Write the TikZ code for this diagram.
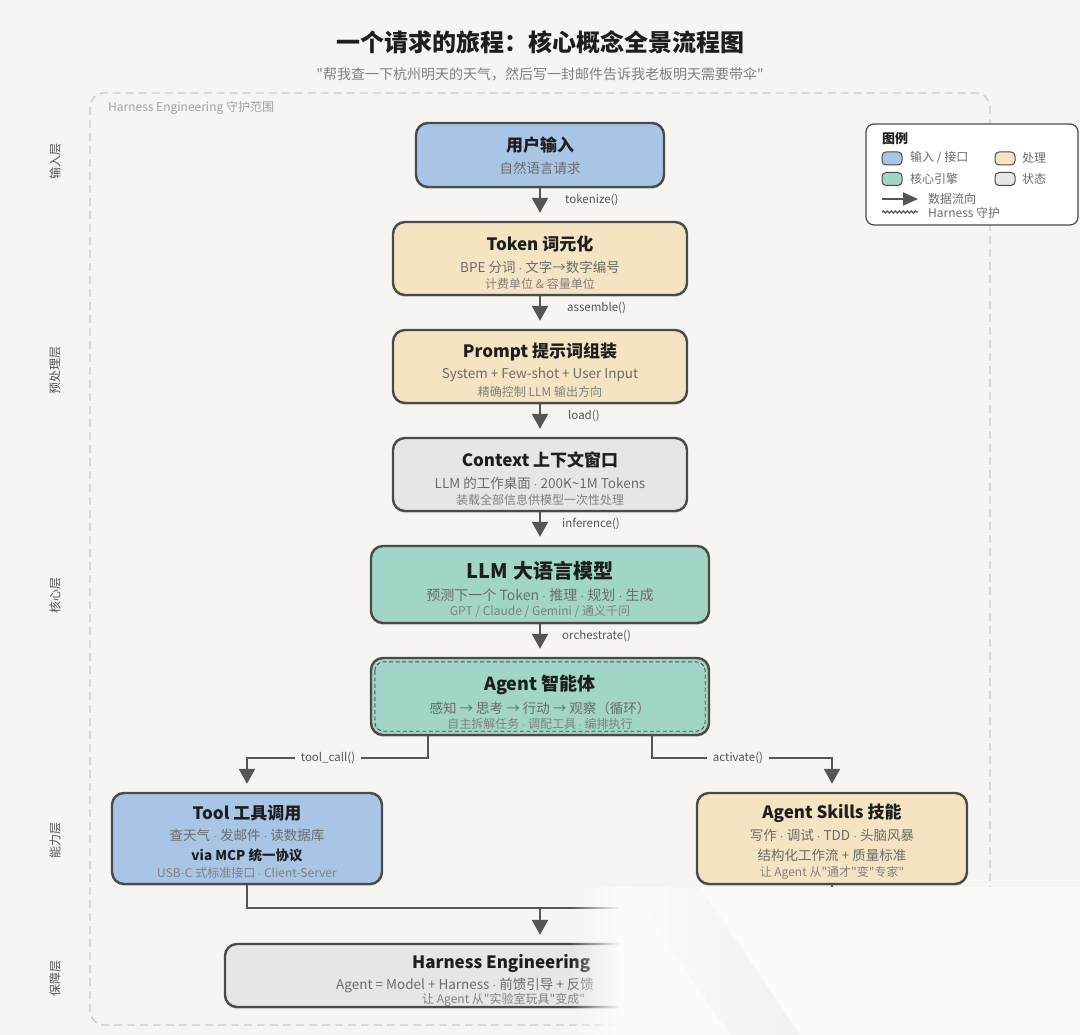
\documentclass[tikz,border=0pt]{standalone}
\usepackage{fontspec}
\setmainfont{Noto Sans CJK SC}[Ligatures=TeXOff]
\newfontfamily\latinfont{TeX Gyre Heros}[Ligatures=TeXOff]
\usetikzlibrary{arrows.meta,shadows,fadings,decorations.pathmorphing}

\definecolor{bgpaper}{HTML}{F7F5F1}
\definecolor{boxline}{HTML}{4A4A4A}
\definecolor{inblue}{HTML}{A9C5E6}
\definecolor{procbeige}{HTML}{F4E4C2}
\definecolor{coreteal}{HTML}{A0D5C7}
\definecolor{stategray}{HTML}{E7E6E3}
\definecolor{ink}{HTML}{1E1E1E}
\definecolor{subgray}{HTML}{6B6B6B}
\definecolor{notegray}{HTML}{808080}
\definecolor{arrowgray}{HTML}{555555}
\definecolor{fencegray}{HTML}{CACACA}

\newcommand{\setfs}[1]{\fontsize{#1}{#1}\selectfont}
\newcommand{\md}{{\latinfont\mdseries ·}}

\begin{document}
\begin{tikzpicture}[x=1pt,y=-1pt,
    box/.style={draw=boxline, line width=2.4pt, rounded corners=12pt,
      drop shadow={shadow xshift=0pt, shadow yshift=-2pt, opacity=0.12, fill=black}},
    ttl/.style={font=\bfseries\setfs{17}, text=ink, inner sep=0pt},
    sub/.style={font=\setfs{13.5}, text=subgray, inner sep=0pt},
    note/.style={font=\setfs{12}, text=notegray, inner sep=0pt},
    flow/.style={draw=arrowgray, line width=2.4pt, -{Triangle[width=16pt,length=15pt]}, shorten >=8pt},
    link/.style={draw=arrowgray, line width=2.2pt},
    lbl/.style={font=\setfs{11.5}, text=arrowgray, inner sep=2pt, anchor=west},
    layer/.style={font=\setfs{12}, text=arrowgray, rotate=90, inner sep=0pt},
    swatch/.style={draw=boxline, line width=1pt, rounded corners=4pt, minimum width=20pt, minimum height=13pt, inner sep=0pt},
    legtext/.style={font=\setfs{12}, text=subgray, anchor=west, inner sep=0pt}]

    % Draw background
    \useasboundingbox (0,0) rectangle (1080,1035);
    \fill[bgpaper] (0,0) rectangle (1080,1035);

    % Title and request
    \node[font=\bfseries\setfs{24}, text=ink, inner sep=0pt] (title) at (540,42) {一个请求的旅程：核心概念全景流程图};
    \node[font=\setfs{14}, text=notegray, inner sep=0pt] (request) at (540,74) {"帮我查一下杭州明天的天气，然后写一封邮件告诉我老板明天需要带伞"};

    % Harness scope
    \draw[fencegray, line width=1.3pt, dash pattern=on 8pt off 5pt, rounded corners=14pt] (90,93) rectangle (990,1025);
    \node[font=\setfs{12}, text=fencegray!80!black, anchor=west, inner sep=0pt] (scope) at (108,108) {Harness Engineering 守护范围};

    % Layer labels
    \node[layer] (l-input) at (55,162) {输入层};
    \node[layer] (l-pre) at (55,370) {预处理层};
    \node[layer] (l-core) at (55,595) {核心层};
    \node[layer] (l-cap) at (55,840) {能力层};
    \node[layer] (l-guard) at (55,978) {保障层};

    % Draw main boxes
    \node[box, fill=inblue, minimum width=248pt, minimum height=64pt] (input) at (540,155) {};
    \node[box, fill=procbeige, minimum width=294pt, minimum height=73pt] (token) at (540,258.5) {};
    \node[box, fill=procbeige, minimum width=294pt, minimum height=73pt] (prompt) at (540,366.5) {};
    \node[box, fill=stategray, minimum width=294pt, minimum height=73pt] (context) at (540,474.5) {};
    \node[box, fill=coreteal, minimum width=338pt, minimum height=77pt] (llm) at (540,584.5) {};
    \node[box, fill=coreteal, minimum width=338pt, minimum height=77pt] (agent) at (540,696.5) {};
    \draw[boxline, line width=0.9pt, dash pattern=on 4pt off 2.5pt, rounded corners=9pt]
        ([xshift=5pt,yshift=-5pt]agent.north west) rectangle ([xshift=-5pt,yshift=5pt]agent.south east);
    \node[box, fill=inblue, minimum width=270pt, minimum height=91pt] (tool) at (247,838.5) {};
    \node[box, fill=procbeige, minimum width=270pt, minimum height=91pt] (skills) at (832,838.5) {};
    \node[box, fill=stategray, minimum width=630pt, minimum height=63pt] (harness) at (540,975.5) {};

    % Box texts
    \node[ttl] (input-t) at (540,145) {用户输入};
    \node[sub] (input-s) at (540,168) {自然语言请求};

    \node[ttl] (token-t) at (540,244) {Token 词元化};
    \node[sub] (token-s) at (540,267) {BPE 分词 \md{} 文字→数字编号};
    \node[note] (token-n) at (540,284) {计费单位 \& 容量单位};

    \node[ttl] (prompt-t) at (540,352) {Prompt 提示词组装};
    \node[sub] (prompt-s) at (540,375) {System + Few-shot + User Input};
    \node[note] (prompt-n) at (540,392) {精确控制 LLM 输出方向};

    \node[ttl] (context-t) at (540,460) {Context 上下文窗口};
    \node[sub] (context-s) at (540,483) {LLM 的工作桌面 \md{} 200K\textasciitilde 1M Tokens};
    \node[note] (context-n) at (540,500) {装载全部信息供模型一次性处理};

    \node[ttl, font=\bfseries\setfs{20}] (llm-t) at (540,571) {LLM 大语言模型};
    \node[sub, font=\setfs{14}] (llm-s) at (540,595) {预测下一个 Token \md{} 推理 \md{} 规划 \md{} 生成};
    \node[note] (llm-n) at (540,612) {GPT / Claude / Gemini / 通义千问};

    \node[ttl, font=\bfseries\setfs{18}] (agent-t) at (540,685) {Agent 智能体};
    \node[sub] (agent-s) at (540,708) {感知 → 思考 → 行动 → 观察（循环）};
    \node[note] (agent-n) at (540,724) {自主拆解任务 \md{} 调配工具 \md{} 编排执行};

    \node[ttl] (tool-t) at (247,813) {Tool 工具调用};
    \node[sub] (tool-s) at (247,835) {查天气 \md{} 发邮件 \md{} 读数据库};
    \node[ttl, font=\bfseries\setfs{13.5}] (tool-m) at (247,855) {via MCP 统一协议};
    \node[note] (tool-n) at (247,873) {USB-C 式标准接口 \md{} Client-Server};

    \node[ttl] (skills-t) at (832,813) {Agent Skills 技能};
    \node[sub] (skills-s) at (832,835) {写作 \md{} 调试 \md{} TDD \md{} 头脑风暴};
    \node[sub] (skills-m) at (832,855) {结构化工作流 + 质量标准};
    \node[note] (skills-n) at (832,873) {让 Agent 从"通才"变"专家"};

    \node[ttl, anchor=west] (harness-t) at (412,963) {Harness Engineering};
    \node[sub, anchor=west] (harness-s) at (336,985) {Agent = Model + Harness \md{} 前馈引导 + 反馈};
    \node[note, anchor=west] (harness-n) at (422,1000) {让 Agent 从"实验室玩具"变成"};

    % Draw data flow
    \draw[flow] (input) -- (token);
    \draw[flow] (token) -- (prompt);
    \draw[flow] (prompt) -- (context);
    \draw[flow] (context) -- (llm);
    \draw[flow] (llm) -- (agent);
    \node[lbl] (tokenize) at (563,200) {tokenize()};
    \node[lbl] (assemble) at (565,308) {assemble()};
    \node[lbl] (load) at (566,416) {load()};
    \node[lbl] (inference) at (560,524) {inference()};
    \node[lbl] (orchestrate) at (560,636) {orchestrate()};

    % Branch to tools and skills
    \coordinate (tool-out) at (428,735);
    \coordinate (skills-out) at (652,735);
    \draw[flow] (tool-out) -- ++(0,23) -| (tool);
    \draw[flow] (skills-out) -- ++(0,23) -| (skills);
    \node[lbl, anchor=center, fill=bgpaper, inner xsep=6pt] (toolcall) at (328,758) {tool\_call()};
    \node[lbl, anchor=center, fill=bgpaper, inner xsep=6pt] (activate) at (738,758) {activate()};

    % Merge into harness
    \coordinate (merge) at (540,908);
    \draw[link] (tool) |- (merge);
    \draw[link] (skills) |- (merge);
    \draw[flow] (merge) -- (harness);

    % Legend
    \node[draw=boxline, line width=1.2pt, fill=white, rounded corners=8pt, minimum width=212pt, minimum height=101pt, inner sep=0pt] (legend) at (972,174.5) {};
    \node[font=\bfseries\setfs{13}, text=ink, anchor=west, inner sep=0pt] (legend-t) at (882,139) {图例};
    \node[swatch, fill=inblue] (sw-in) at (892,158.5) {};
    \node[legtext] (sw-in-t) at (910,158) {输入 / 接口};
    \node[swatch, fill=procbeige] (sw-proc) at (1005,158.5) {};
    \node[legtext] (sw-proc-t) at (1022,158) {处理};
    \node[swatch, fill=coreteal] (sw-core) at (892,179) {};
    \node[legtext] (sw-core-t) at (910,179) {核心引擎};
    \node[swatch, fill=stategray] (sw-state) at (1005,179) {};
    \node[legtext] (sw-state-t) at (1022,179) {状态};
    \coordinate (leg-a1) at (882,199);
    \coordinate (leg-a2) at (918,199);
    \draw[arrowgray, line width=2pt, -{Triangle[width=13pt,length=15pt]}] (leg-a1) -- (leg-a2);
    \node[legtext] (leg-flow) at (928,199) {数据流向};
    \coordinate (leg-w1) at (882,212);
    \coordinate (leg-w2) at (918,212);
    \draw[arrowgray, line width=1.4pt, decorate, decoration={snake, amplitude=1pt, segment length=4pt}] (leg-w1) -- (leg-w2);
    \node[legtext] (leg-guard) at (928,213) {Harness 守护};

    % Page curl in the corner
    \fill[white!60!bgpaper, path fading=west] (570,887) rectangle (620,1035);
    \fill[white!60!bgpaper] (619,887) rectangle (1080,1035);
    \fill[black!5, path fading=west] (630,887) -- (700,887) -- (800,1035) -- (730,1035) -- cycle;
\end{tikzpicture}
\end{document}
